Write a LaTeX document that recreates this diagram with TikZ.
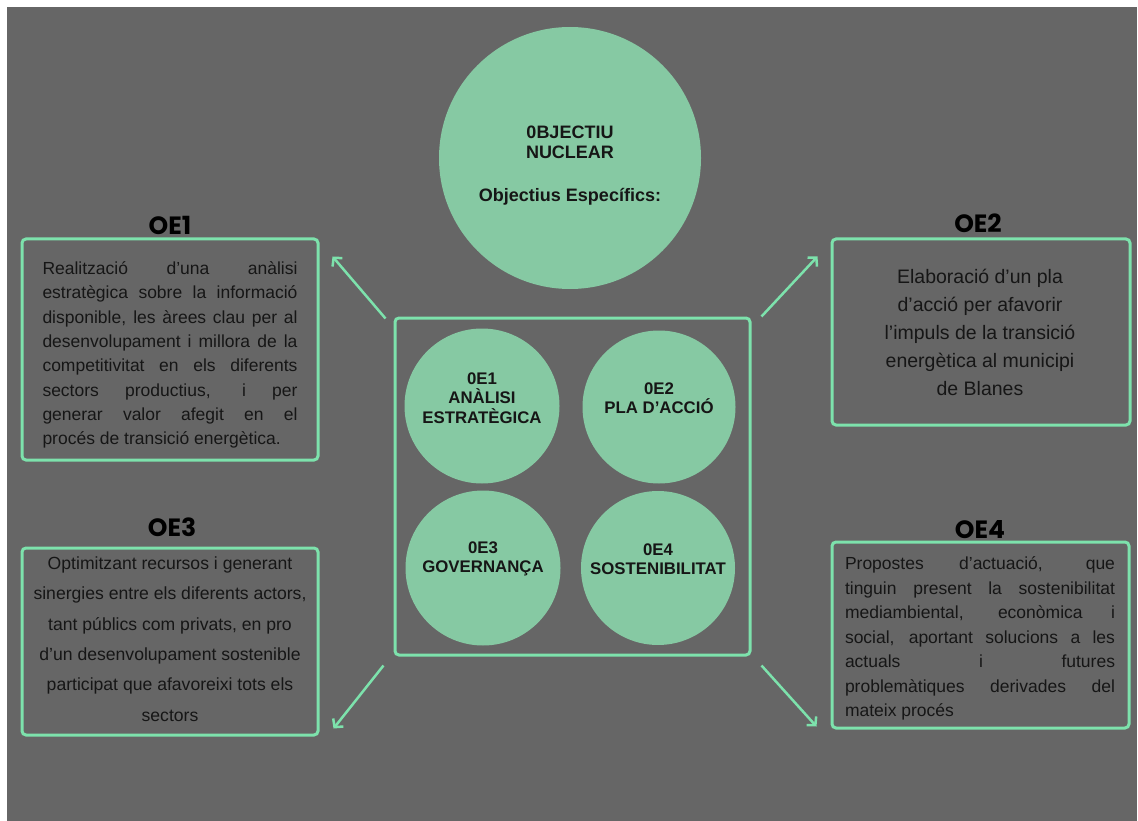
\documentclass[tikz,border=0pt]{standalone}
\usepackage{fontspec}
\setmainfont{Liberation Sans}
\newfontfamily\titlefont{Poppins}
\usetikzlibrary{arrows.meta,calc}
\definecolor{bg}{HTML}{666666}
\definecolor{mint}{HTML}{86C9A3}
\definecolor{neon}{HTML}{7DE2AC}
\definecolor{ink}{HTML}{161616}
\begin{document}
\begin{tikzpicture}[x=1pt,y=-1pt,
  panel/.style={draw=neon, line width=3pt, rounded corners=4pt, inner sep=0pt},
  bubble/.style={circle, fill=mint, inner sep=0pt},
  bubtext/.style={text=ink, align=center, font=\fontsize{16.8}{19.5}\selectfont\bfseries},
  title/.style={text=black, font=\titlefont\fontsize{25}{28}\selectfont\bfseries},
  arr/.style={draw=neon, line width=2.5pt, -{Straight Barb[length=6pt,width=13pt,line width=2.5pt]}},
  body/.style={text=ink}
]
\useasboundingbox (0,0) rectangle (1138,821);
\fill[white] (0,0) rectangle (1138,821);
\fill[bg] (7,7) rectangle (1137,821);

% top circle
\node[bubble, minimum size=262pt] (nuc) at (570,158) {};
\node[bubtext, font=\fontsize{18}{19.5}\selectfont\bfseries] (nuctxt) at (570,166)
  {0BJECTIU\\NUCLEAR\\[24pt]Objectius Específics:};

% central box
\node[panel, minimum width=355pt, minimum height=337pt] (cbox) at (572.5,486.5) {};
\node[bubble, minimum size=155pt] (c1) at (482,406) {};
\node[bubble, minimum size=153pt] (c2) at (659,407) {};
\node[bubble, minimum size=155pt] (c3) at (483,568) {};
\node[bubble, minimum size=154pt] (c4) at (658,568) {};
\node[bubtext] (c1t) at (482,398) {0E1\\ANÀLISI\\ESTRATÈGICA};
\node[bubtext] (c2t) at (659,398) {0E2\\PLA D'ACCIÓ};
\node[bubtext] (c3t) at (483,559) {0E3\\GOVERNANÇA};
\node[bubtext] (c4t) at (658,559) {0E4\\SOSTENIBILITAT};

% side panels
\node[panel, minimum width=296pt, minimum height=221pt] (oe1) at (170,349.5) {};
\node[panel, minimum width=298pt, minimum height=186pt] (oe2) at (981,332) {};
\node[panel, minimum width=296pt, minimum height=187pt] (oe3) at (170,641.5) {};
\node[panel, minimum width=297pt, minimum height=186pt] (oe4) at (980.5,635) {};

\node[title] (h1) at (170,225) {OE1};
\node[title] (h2) at (978,223) {OE2};
\node[title] (h3) at (172,527) {OE3};
\node[title] (h4) at (980,530) {OE4};

\node[body, align=left, font=\fontsize{17.5}{24.3}\selectfont] (t1) at (170,355) {%
\makebox[255pt][s]{Realització d’una anàlisi}\\
\makebox[255pt][s]{estratègica sobre la informació}\\
\makebox[255pt][s]{disponible, les àrees clau per al}\\
\makebox[255pt][s]{desenvolupament i millora de la}\\
\makebox[255pt][s]{competitivitat en els diferents}\\
\makebox[255pt][s]{sectors productius, i per}\\
\makebox[255pt][s]{generar valor afegit en el}\\
\makebox[255pt][l]{procés de transició energètica.}};

\node[body, align=center, font=\fontsize{19.5}{27.8}\selectfont] (t2) at (980,332.5) {%
Elaboració d’un pla\\
d’acció per afavorir\\
l’impuls de la transició\\
energètica al municipi\\
de Blanes};

\node[body, align=center, font=\fontsize{17.6}{30.4}\selectfont] (t3) at (170,639) {%
Optimitzant recursos i generant\\
sinergies entre els diferents actors,\\
tant públics com privats, en pro\\
d’un desenvolupament sostenible\\
participat que afavoreixi tots els\\
sectors};

\node[body, align=left, font=\fontsize{17.5}{24.5}\selectfont] (t4) at (980,638.5) {%
\makebox[270pt][s]{Propostes d’actuació, que}\\
\makebox[270pt][s]{tinguin present la sostenibilitat}\\
\makebox[270pt][s]{mediambiental, econòmica i}\\
\makebox[270pt][s]{social, aportant solucions a les}\\
\makebox[270pt][s]{actuals i futures}\\
\makebox[270pt][s]{problemàtiques derivades del}\\
\makebox[270pt][l]{mateix procés}};

% connectors
\draw[arr] ([shift={(-8,2)}]cbox.north west) -- ([shift={(13,19)}]oe1.north east);
\draw[arr] ([shift={(10,0)}]cbox.north east) -- ([shift={(-13,19)}]oe2.north west);
\draw[arr] ([shift={(-10,9)}]cbox.south west) -- ([shift={(14,-8)}]oe3.south east);
\draw[arr] ([shift={(10,9)}]cbox.south east) -- ([shift={(-14,-3)}]oe4.south west);
\end{tikzpicture}
\end{document}
